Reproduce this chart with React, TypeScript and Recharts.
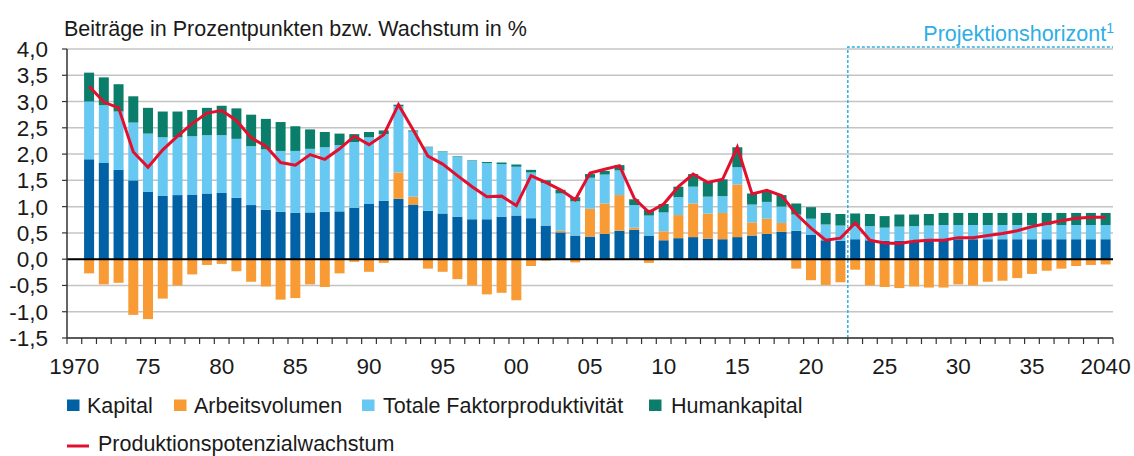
import { ComposedChart, Bar, Line, XAxis, YAxis, CartesianGrid, ReferenceLine, ReferenceArea } from 'recharts';

// Jahre 1970..2040 (1970 ohne Werte)
const years: number[] = [];
for (let y = 1970; y <= 2040; y++) years.push(y);

const kapital = [
  null,
  1.90, 1.83, 1.70, 1.50, 1.28, 1.21, 1.22, 1.23, 1.25, 1.26,
  1.17, 1.03, 0.94, 0.90, 0.88, 0.89, 0.90, 0.91, 0.98, 1.05,
  1.11, 1.15, 1.04, 0.92, 0.87, 0.81, 0.76, 0.76, 0.81, 0.83,
  0.78, 0.64, 0.51, 0.45, 0.43, 0.48, 0.54, 0.56, 0.45, 0.36,
  0.40, 0.42, 0.39, 0.38, 0.42, 0.45, 0.48, 0.52, 0.54, 0.46,
  0.36, 0.35, 0.38, 0.36, 0.35, 0.35, 0.35, 0.36, 0.38, 0.38,
  0.38, 0.38, 0.38, 0.38, 0.38, 0.38, 0.38, 0.38, 0.38, 0.38,
];

const arbeitsvolumen = [
  null,
  -0.27, -0.48, -0.45, -1.06, -1.14, -0.75, -0.50, -0.29, -0.11, -0.09,
  -0.23, -0.43, -0.52, -0.77, -0.74, -0.48, -0.53, -0.27, -0.05, -0.24,
  -0.07, 0.50, 0.15, -0.18, -0.24, -0.38, -0.50, -0.67, -0.64, -0.78,
  -0.13, -0.03, 0.03, -0.06, 0.53, 0.58, 0.68, 0.04, -0.07, 0.17,
  0.44, 0.64, 0.48, 0.50, 1.00, 0.25, 0.29, 0.17, -0.18, -0.40,
  -0.49, -0.44, -0.20, -0.50, -0.53, -0.55, -0.52, -0.54, -0.54, -0.48,
  -0.50, -0.43, -0.41, -0.36, -0.28, -0.22, -0.18, -0.13, -0.11, -0.10,
];

const tfp = [
  null,
  1.10, 1.10, 1.11, 1.10, 1.11, 1.11, 1.10, 1.11, 1.11, 1.10,
  1.12, 1.12, 1.15, 1.16, 1.18, 1.21, 1.23, 1.26, 1.25, 1.27,
  1.27, 1.26, 1.24, 1.21, 1.17, 1.14, 1.11, 1.07, 1.00, 0.93,
  0.87, 0.81, 0.71, 0.65, 0.59, 0.55, 0.47, 0.43, 0.38, 0.36,
  0.34, 0.32, 0.32, 0.32, 0.33, 0.34, 0.32, 0.31, 0.31, 0.31,
  0.30, 0.29, 0.25, 0.27, 0.25, 0.27, 0.28, 0.28, 0.27, 0.27,
  0.27, 0.27, 0.27, 0.27, 0.27, 0.27, 0.27, 0.27, 0.27, 0.27,
];

const humankapital = [
  null,
  0.55, 0.53, 0.52, 0.50, 0.49, 0.49, 0.49, 0.50, 0.52, 0.56,
  0.58, 0.60, 0.58, 0.55, 0.47, 0.37, 0.29, 0.22, 0.15, 0.10,
  0.07, 0.03, 0.02, 0.01, 0.01, 0.01, 0.01, 0.02, 0.03, 0.04,
  0.05, 0.05, 0.07, 0.08, 0.07, 0.07, 0.10, 0.11, 0.11, 0.16,
  0.20, 0.24, 0.29, 0.32, 0.38, 0.21, 0.21, 0.22, 0.21, 0.22,
  0.22, 0.22, 0.24, 0.23, 0.22, 0.23, 0.22, 0.22, 0.23, 0.23,
  0.23, 0.23, 0.23, 0.23, 0.23, 0.23, 0.23, 0.23, 0.23, 0.23,
];

const potenzialwachstum = [
  null,
  3.29, 2.99, 2.88, 2.04, 1.75, 2.08, 2.34, 2.58, 2.78, 2.83,
  2.64, 2.31, 2.15, 1.84, 1.79, 1.99, 1.90, 2.10, 2.34, 2.18,
  2.37, 2.94, 2.46, 1.96, 1.81, 1.59, 1.38, 1.19, 1.20, 1.02,
  1.59, 1.46, 1.32, 1.13, 1.64, 1.71, 1.78, 1.16, 0.89, 1.05,
  1.38, 1.62, 1.46, 1.52, 2.13, 1.24, 1.31, 1.21, 0.86, 0.59,
  0.36, 0.40, 0.69, 0.36, 0.31, 0.30, 0.34, 0.36, 0.36, 0.41,
  0.41, 0.45, 0.49, 0.54, 0.62, 0.68, 0.73, 0.78, 0.80, 0.80,
];

const yTicks = [-1.5, -1, -0.5, 0, 0.5, 1, 1.5, 2, 2.5, 3, 3.5, 4];

const data = years.map((year, i) => ({
  year,
  kapital: kapital[i],
  arbeit: arbeitsvolumen[i],
  tfp: tfp[i],
  human: humankapital[i],
  potenzial: potenzialwachstum[i],
}));

const COLORS = {
  kapital: '#0061a5',
  arbeit: '#f99b35',
  tfp: '#67c8f1',
  human: '#0a7e6b',
  line: '#e2102e',
  projektion: '#2eaee4',
};

const W = 1134;
const H = 456;
const MARGIN = { top: 49, right: 21, bottom: 88, left: 0 };
const Y_AXIS_W = 67;
const BAND = (W - MARGIN.left - MARGIN.right - Y_AXIS_W) / years.length;
const FONT = '"Liberation Sans", Arial, sans-serif';
const FS = 21.5;

function YearTick(props: any) {
  const { x, y, payload, index } = props;
  const yr = Number(payload.value);
  const label = yr % 5 !== 0 ? '' : yr === 1970 || yr === 2040 ? String(yr) : String(yr).slice(2);
  return (
    <g>
      <line x1={x - BAND / 2} x2={x - BAND / 2} y1={y} y2={y + 6} stroke="#333" strokeWidth={1.2} />
      {index === years.length - 1 && (
        <line x1={x + BAND / 2} x2={x + BAND / 2} y1={y} y2={y + 6} stroke="#333" strokeWidth={1.2} />
      )}
      {label && (
        <text x={x} y={y + 36} textAnchor="middle" fontSize={FS + 1} fill="#1a1a1a" fontFamily={FONT}>
          {label}
        </text>
      )}
    </g>
  );
}

// only left and top edge of the projection box are drawn
function ProjektionBox(p: any) {
  const top = p.y - 2;
  return (
    <path
      d={`M${p.x},${p.y + p.height} L${p.x},${top} L${p.x + p.width},${top}`}
      fill="none"
      stroke={COLORS.projektion}
      strokeWidth={1.5}
      strokeDasharray="3 2"
    />
  );
}

const legendItems = [
  { label: 'Kapital', color: COLORS.kapital, x: 67, tx: 87 },
  { label: 'Arbeitsvolumen', color: COLORS.arbeit, x: 174, tx: 194 },
  { label: 'Totale Faktorproduktivität', color: COLORS.tfp, x: 362, tx: 383 },
  { label: 'Humankapital', color: COLORS.human, x: 649, tx: 671 },
];

export default function App() {
  return (
    <div style={{ position: 'relative', width: W, height: H, fontFamily: FONT, background: '#fff' }}>
      <style>{'body{margin:0;}'}</style>
      <ComposedChart
        width={W}
        height={H}
        data={data}
        margin={MARGIN}
        stackOffset="sign"
        barCategoryGap="16%"
      >
        <CartesianGrid vertical={false} stroke="#c4c4c4" strokeWidth={1.5} />
        <XAxis
          dataKey="year"
          interval={0}
          tickSize={0}
          tickMargin={0}
          height={30}
          tick={<YearTick />}
          axisLine={{ stroke: '#333', strokeWidth: 1.5 }}
          tickLine={false}
        />
        <YAxis
          width={Y_AXIS_W}
          domain={[-1.5, 4]}
          ticks={yTicks}
          interval={0}
          tickSize={5}
          tickMargin={14}
          tickFormatter={(v: number) => v.toFixed(1).replace('.', ',')}
          tick={{ fontSize: FS + 1, fill: '#1a1a1a', fontFamily: FONT }}
          axisLine={{ stroke: '#333', strokeWidth: 1.5 }}
          tickLine={{ stroke: '#333', strokeWidth: 1.2 }}
        />
        <ReferenceArea x1={2023} x2={2040} y1={-1.5} y2={4} shape={ProjektionBox} />
        <Bar dataKey="kapital" stackId="a" fill={COLORS.kapital} isAnimationActive={false} />
        <Bar dataKey="arbeit" stackId="a" fill={COLORS.arbeit} isAnimationActive={false} />
        <Bar dataKey="tfp" stackId="a" fill={COLORS.tfp} isAnimationActive={false} />
        <Bar dataKey="human" stackId="a" fill={COLORS.human} isAnimationActive={false} />
        <ReferenceLine y={0} stroke="#000" strokeWidth={2} />
        <Line
          dataKey="potenzial"
          type="linear"
          stroke={COLORS.line}
          strokeWidth={3}
          dot={false}
          isAnimationActive={false}
        />
      </ComposedChart>
      <svg
        width={W}
        height={H}
        style={{ position: 'absolute', left: 0, top: 0, pointerEvents: 'none' }}
        fontFamily={FONT}
      >
        <text x={64} y={36} fontSize={FS} fill="#1a1a1a">
          Beiträge in Prozentpunkten bzw. Wachstum in %
        </text>
        <text x={1114} y={41} fontSize={FS} fill={COLORS.projektion} textAnchor="end">
          Projektionshorizont
          <tspan fontSize={14} dy={-8}>1</tspan>
        </text>
        {legendItems.map((it) => (
          <g key={it.label}>
            <rect x={it.x} y={399.5} width={12.5} height={11.5} fill={it.color} />
            <text x={it.tx} y={413} fontSize={FS} fill="#1a1a1a">
              {it.label}
            </text>
          </g>
        ))}
        <line x1={67} x2={89} y1={446} y2={446} stroke={COLORS.line} strokeWidth={3} />
        <text x={98} y={451} fontSize={FS} fill="#1a1a1a">
          Produktionspotenzialwachstum
        </text>
      </svg>
    </div>
  );
}
